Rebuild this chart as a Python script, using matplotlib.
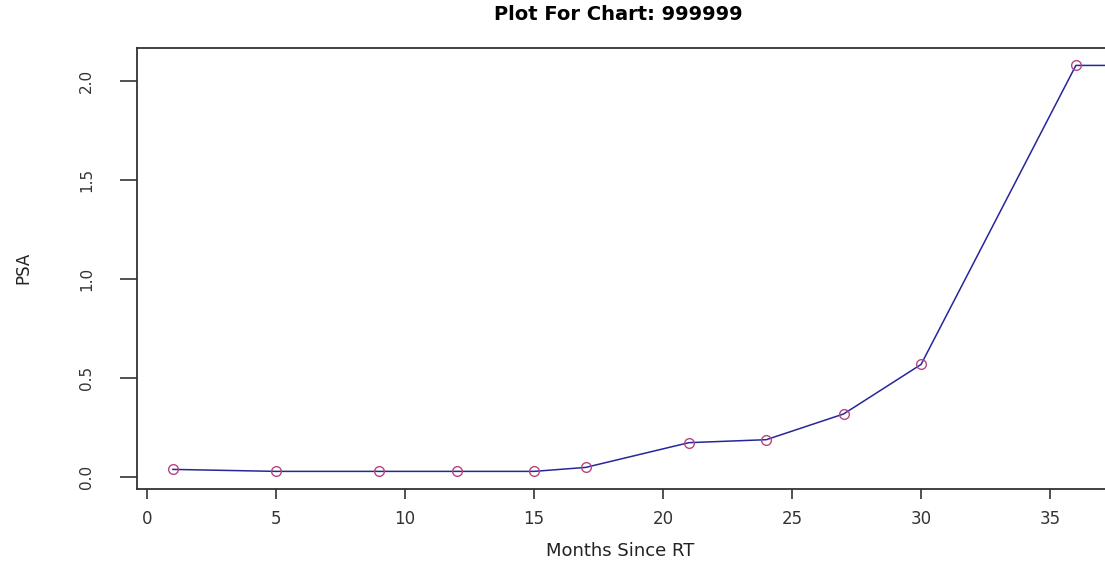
import matplotlib
matplotlib.use("Agg")
import matplotlib.pyplot as plt

# PSA measurements over time since radiotherapy
months = [1, 5, 9, 12, 15, 17, 21, 24, 27, 30, 36, 39]
psa = [0.04, 0.03, 0.03, 0.03, 0.03, 0.05, 0.175, 0.19, 0.32, 0.57, 2.08, 2.08]

x_ticks = [0, 5, 10, 15, 20, 25, 30, 35]
y_ticks = [0.0, 0.5, 1.0, 1.5, 2.0]
y_tick_labels = ["0.0", "0.5", "1.0", "1.5", "2.0"]

W, H = 1105, 564
fig = plt.figure(figsize=(W / 100, H / 100), dpi=100)
fig.patch.set_facecolor("white")

# plot box in pixels: left 137, top 48, bottom 489; right edge runs past the figure
left_px, top_px, bot_px = 137, 48, 489
x0, x1 = -0.39, 37.45
px_per_unit = 25.8
width_px = (x1 - x0) * px_per_unit
ax = fig.add_axes([left_px / W, (H - bot_px) / H, width_px / W, (bot_px - top_px) / H])

ax.plot(months, psa, color="#26269a", lw=1.1, zorder=2)
ax.plot(months, psa, linestyle="none", marker="o", markersize=7,
        markerfacecolor="none", markeredgecolor="#b84480", markeredgewidth=1.0, zorder=3)

ax.set_xlim(x0, x1)
ax.set_ylim(-0.059, 2.168)

ax.set_xticks(x_ticks)
ax.set_xticklabels([str(t) for t in x_ticks], fontsize=12, family="DejaVu Sans", color="#333333")
ax.set_yticks(y_ticks)
ax.set_yticklabels(y_tick_labels, fontsize=11, family="DejaVu Sans", color="#333333",
                   rotation=90, va="center")

ax.tick_params(axis="x", direction="out", length=7, width=1.1, pad=8, colors="#222222")
ax.tick_params(axis="y", direction="out", length=12, width=1.1, pad=19, colors="#222222")
for lab in ax.get_xticklabels() + ax.get_yticklabels():
    lab.set_color("#333333")

for s in ax.spines.values():
    s.set_color("#333333")
    s.set_linewidth(1.3)
ax.spines["right"].set_visible(False)

ax.set_xlabel("Months Since RT", fontsize=13, family="DejaVu Sans", color="#222222", labelpad=0)
ax.xaxis.set_label_coords((620 - left_px) / width_px, -(551 - bot_px) / (bot_px - top_px),
                          transform=ax.transAxes)
ax.xaxis.label.set_va("center")

fig.text(23 / W, (H - 268) / H, "PSA", rotation=90, fontsize=12, family="DejaVu Sans",
         color="#222222", ha="center", va="center")

fig.text(618 / W, (H - 14) / H, "Plot For Chart: 999999", fontsize=14, fontweight="bold",
         family="DejaVu Sans", ha="center", va="center", color="#000000")

fig.savefig("out.png", dpi=100, facecolor="white")
